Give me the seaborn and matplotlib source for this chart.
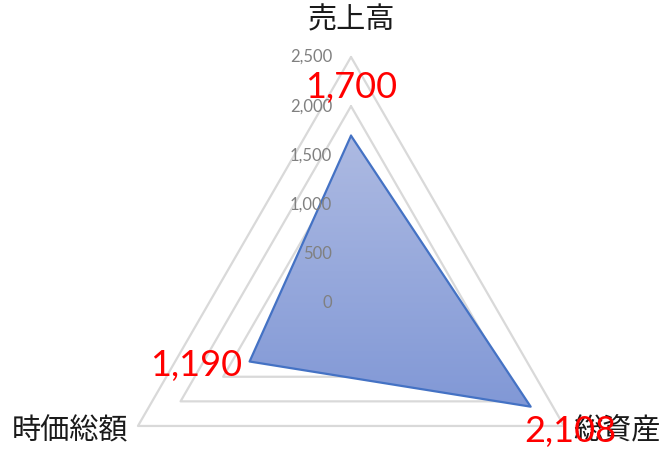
import numpy as np
import pandas as pd
import seaborn as sns
import matplotlib.pyplot as plt
from matplotlib.colors import LinearSegmentedColormap
from matplotlib.patches import Polygon

# data
categories = ["売上高", "総資産", "時価総額"]
values = [1700, 2108, 1190]
value_labels = ["1,700", "2,108", "1,190"]
grid_levels = [0, 500, 1000, 1500, 2000, 2500]
tick_labels = ["0", "500", "1,000", "1,500", "2,000", "2,500"]

sns.set_theme(style="white")
plt.rcParams['font.family'] = ['Noto Sans CJK JP', 'DejaVu Sans']

angles = np.deg2rad([90, -30, 210])

def to_xy(r):
    r = np.asarray(r, dtype=float)
    return r * np.cos(angles), r * np.sin(angles)

fig = plt.figure(figsize=(6.72, 4.54), dpi=100)
ax = fig.add_axes([0, 0, 1, 1])
ax.set_xlim(-3567, 3262)
ax.set_ylim(-1535, 3079)
ax.axis("off")

# grid triangles
for lv in grid_levels[1:]:
    gx, gy = to_xy([lv] * 3)
    df = pd.DataFrame({"x": np.append(gx, gx[0]), "y": np.append(gy, gy[0])})
    sns.lineplot(data=df, x="x", y="y", sort=False, estimator=None,
                 color="#d9d9d9", linewidth=1.6, ax=ax, zorder=1)

# data polygon with gradient fill
px, py = to_xy(values)
poly = Polygon(np.column_stack([px, py]), closed=True, facecolor="none",
               edgecolor="none")
ax.add_patch(poly)
cmap = LinearSegmentedColormap.from_list("grad", ["#adbae2", "#8198d6"])
grad = np.linspace(0, 1, 256).reshape(-1, 1)
img = ax.imshow(grad, cmap=cmap, aspect="auto",
                extent=[px.min(), px.max(), py.min(), py.max()],
                origin="upper", zorder=2)
img.set_clip_path(poly)
df = pd.DataFrame({"x": np.append(px, px[0]), "y": np.append(py, py[0])})
sns.lineplot(data=df, x="x", y="y", sort=False, estimator=None,
             color="#4472c4", linewidth=1.6, ax=ax, zorder=3)

# radial tick labels
for lv, lab in zip(grid_levels, tick_labels):
    ax.annotate(lab, (0, lv), xytext=(-19, 0), textcoords="offset pixels",
                ha="right", va="center", fontsize=12, color="#808080",
                family=["Lato", "DejaVu Sans"], zorder=4)

# category labels
ex, ey = to_xy([2500] * 3)
cat_offsets = [(0, 37), (9, -5), (-10, -5)]
cat_ha = ["center", "left", "right"]
for i, c in enumerate(categories):
    ax.annotate(c, (ex[i], ey[i]), xytext=cat_offsets[i], textcoords="offset pixels",
                ha=cat_ha[i], va="center", fontsize=21, color="#1a1a1a", zorder=5)

# data labels
lab_offsets = [(0, 48), (40, -25), (-53, -4)]
for i, lab in enumerate(value_labels):
    ax.annotate(lab, (px[i], py[i]), xytext=lab_offsets[i], textcoords="offset pixels",
                ha="center", va="center", fontsize=26, color="#ff0000",
                family=["Lato", "DejaVu Sans"], zorder=6)

fig.savefig("out.png", dpi=100)
